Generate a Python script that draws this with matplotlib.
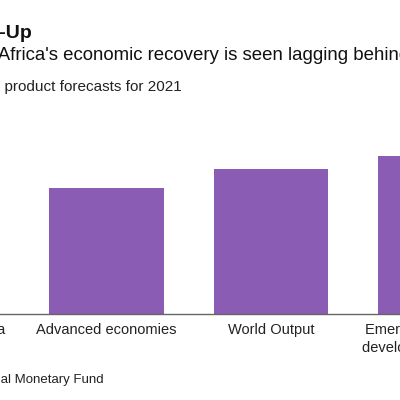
import matplotlib
matplotlib.use('Agg')
import matplotlib.pyplot as plt

plt.rcParams['font.family'] = ['Liberation Sans', 'DejaVu Sans']

# GDP forecasts for 2021 (%)
categories = ['Sub-Saharan Africa', 'Advanced economies', 'World Output',
              'Emerging market and\ndeveloping economies']
values = [3.6, 4.8, 5.5, 6.0]

title = 'Catch-Up'
subtitle = "South Africa's economic recovery is seen lagging behind peers"
note = 'Gross domestic product forecasts for 2021'
source = 'Source: International Monetary Fund'

W = H = 400.0
fig = plt.figure(figsize=(4, 4), dpi=100)

# the reference is a crop of a wider chart, so the axes run past the edges
ax = fig.add_axes([-140.25 / W, 86.5 / H, 658 / W, 183.4 / H])
x = list(range(len(categories)))
ax.bar(x, values, width=0.695, color='#8a5cb3')
ax.set_xlim(-0.5, 3.5)
ax.set_ylim(0, 7)
ax.set_xticks(x)
ax.set_xticklabels(categories, fontsize=10.5, color='#222222', linespacing=1.35)
ax.tick_params(axis='x', length=0, pad=7)
ax.set_yticks([])
for s in ['top', 'left', 'right']:
    ax.spines[s].set_visible(False)
ax.spines['bottom'].set_color('#666666')
ax.spines['bottom'].set_linewidth(1)


def px(xp, yp):
    return xp / W, 1 - yp / H


fig.text(*px(32, 33), title, ha='right', va='center', fontsize=14,
         fontweight='bold', color='#111111')
fig.text(*px(-55, 56), subtitle, ha='left', va='center', fontsize=13.4,
         color='#111111')
fig.text(*px(-105, 87), note, ha='left', va='center', fontsize=11,
         color='#222222')
fig.text(*px(-111, 380), source, ha='left', va='center', fontsize=9.5,
         color='#222222')

fig.savefig('out.png', dpi=100, facecolor='white')
